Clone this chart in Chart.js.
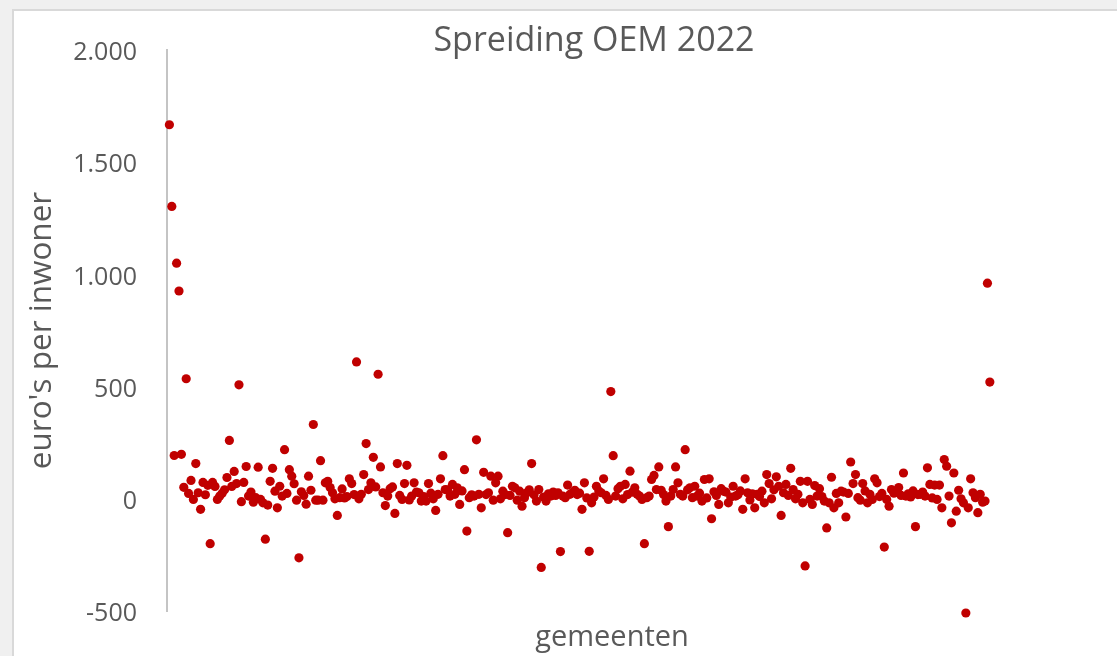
<!DOCTYPE html>
<html><head><meta charset="utf-8">
<script src="https://cdn.jsdelivr.net/npm/chart.js@4"></script>
<style>
html,body{margin:0;padding:0;background:#f0f0f0;width:1117px;height:656px;overflow:hidden}
#panel{position:absolute;left:12px;top:9px;width:1200px;height:700px;background:#fff;border:2px solid #d9d9d9;box-sizing:border-box}
#wrap{position:absolute;left:0;top:0;width:1117px;height:656px}
</style></head><body>
<div id="panel"></div>
<div id="wrap"><canvas id="c" width="1117" height="656"></canvas></div>
<script>
// OEM 2022 spread, euro's per inwoner, one value per gemeente (left to right)
const valuesA = [1667, 1303, 193, 1050, 926, 198, 51, 535, 24, 82, -3, 157, 27, -47, 73, 18, 60, -200, 73, 55, -3, 12, 25, 40, 95, 260, 55, 122, 68, 508, -13, 73, 144, 12, 30, -15, 5];
const valuesB = [141, -3, -18, -180, -28, 78, 136, 34, -40, 56, 12, 219, 24, 130, 101, 67, -6, -263, 31, 15, -24, 101, 38, 331, -6, -6, 170, -6, 71, 78, 50, 27, 0, -74, 5, 44, 4, 10, 89, 68, 19, 610, 0, 20, 108, 246];
const valuesC = [41, 71, 185, 53, 555, 142, 27, -30, 12, 45, 53, -65, 157, 15, -3, 68, 149, -5, 12, 71, 30, 27, -10, 10, -10, 68, 25, 0, -52, 20, 89, 192, 41, 40, 12, 64, 20, 49, -25, 35, 130, -144, 5, 18];
const valuesD = [12, 263, 20, -40, 118, 19, 27, 101, -6, 71, 101, 0, 34, 19, -151, 15, 56, 49, -6, 34, -33, 5, 27, 40, 157, 18, -10, 41, -306, 8, -10, 22, 12, 30, 15, 27, -235, 12, 5, 61, 20, 27, 38];
const valuesE = [19, 25, -47, 71, 4, -234, -18, 8, 56, 35, 27, 89, 15, -3, 478, 192, 12, 45, 56, 0, 64, 19, 123, 30, 49, 20, 12, -3, -200, 5, 12, 86, 104, 41, 142, 38, 19, -10, -124, 12, 41, 142, 71];
const valuesF = [20, 12, 219, 40, 49, 5, 56, 12, 25, -10, 86, 4, 89, -89, 31, 15, -25, 45, 34, 30, -18, 8, 56, 12, 18, 35, -47, 89, 27, -5, 22, -40, 20, 10, 34, -18, 108, 68, 0, 40, 98, 56, -74, 27];
const valuesG = [64, 15, 136, 41, 0, 20, 78, -18, -299, 78, -3, -25, 59, 12, 45, 10, -10, -130, -18, 96, -40, 24, -18, 34, 30, -81, 24, 164, 68, 108, 5, -6, 68, 35, -18, 20, -3, 89, 71, 10, 24, -215, -3, -33];
const valuesH = [41, 25, 30, 50, 15, 115, 12, 22, 8, 35, -124, 19, 20, 30, 12, 138, 64, 4, 61, -3, 61, -40, 175, 145, 12, -107, 115, -55, 38, 0, -18, -509, -40, 89, 27, 5, -62, 20, -15, -10, 961, 520];
const values = [].concat(valuesA, valuesB, valuesC, valuesD, valuesE, valuesF, valuesG, valuesH);

const yTicks = [-500, 0, 500, 1000, 1500, 2000];
const yTickLabels = ['-500', '0', '500', '1.000', '1.500', '2.000'];
const chartTitle = 'Spreiding OEM 2022';
const xTitle = 'gemeenten';
const yTitle = "euro's per inwoner";

const points = values.map((v, i) => ({x: i + 1, y: v}));
const FONT = '"Open Sans", "Noto Sans", sans-serif';
const TXT = '#595959';

const titlePlugin = {
  id: 'fixedTitle',
  afterDraw(chart) {
    const ctx = chart.ctx;
    ctx.save();
    ctx.font = '34px ' + FONT;
    ctx.fillStyle = TXT;
    ctx.textAlign = 'center';
    ctx.textBaseline = 'middle';
    ctx.fillText(chartTitle, 594, 41);
    ctx.restore();
  }
};

function build() {
  new Chart(document.getElementById('c'), {
    type: 'scatter',
    data: {datasets: [{
      data: points,
      backgroundColor: '#c00000',
      borderColor: '#c00000',
      borderWidth: 0,
      pointRadius: 4.6,
      pointHoverRadius: 4.6,
      clip: false
    }]},
    options: {
      responsive: false,
      animation: false,
      layout: {padding: {left: 0, right: 60, top: 50, bottom: 0}},
      plugins: {legend: {display: false}, tooltip: {enabled: false}, title: {display: false}},
      scales: {
        x: {
          type: 'linear', min: 0, max: 371,
          grid: {display: false, drawTicks: false},
          border: {display: false},
          ticks: {display: false},
          title: {display: true, text: xTitle, color: TXT, font: {family: FONT, size: 29}, padding: {top: 0, bottom: -3}},
          afterFit(s) { s.height = 41; }
        },
        y: {
          min: -500, max: 2000,
          afterBuildTicks(s) { s.ticks = yTicks.map(v => ({value: v})); },
          ticks: {
            callback: (v) => yTickLabels[yTicks.indexOf(v)],
            color: TXT, font: {family: FONT, size: 25}, padding: 30, labelOffset: 3
          },
          grid: {display: false, drawTicks: false},
          border: {display: true, color: '#c4c4c4', width: 2},
          title: {display: true, text: yTitle, color: TXT, font: {family: FONT, size: 31.5}, padding: {top: 23, bottom: 0}},
          afterFit(s) { s.width = 167; }
        }
      }
    },
    plugins: [titlePlugin]
  });
}
if (document.fonts && document.fonts.load) {
  Promise.all([document.fonts.load('25px "Open Sans"'), document.fonts.load('34px "Open Sans"')]).then(build, build);
} else { build(); }
</script>
</body></html>
